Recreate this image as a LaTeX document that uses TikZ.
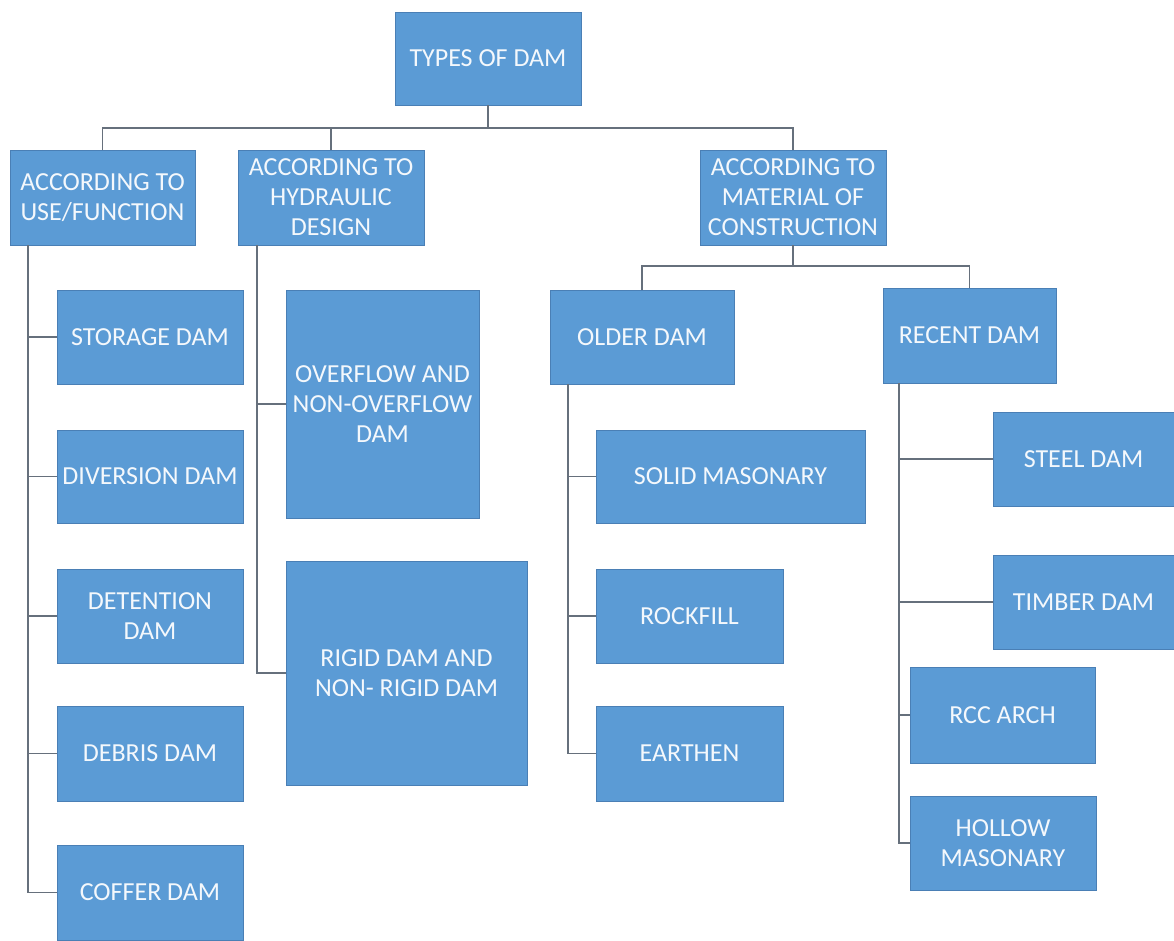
\documentclass[tikz,border=0pt]{standalone}
\usepackage{fontspec}
\setmainfont{Carlito}
\definecolor{boxfill}{HTML}{5B9BD5}
\definecolor{boxline}{HTML}{4A7FB5}
\definecolor{connline}{HTML}{66707C}
\definecolor{txt}{HTML}{F4F8FC}
\begin{document}
\begin{tikzpicture}[x=0.75pt,y=-0.75pt,
  box/.style 2 args={draw=boxline, line width=0.6pt, fill=boxfill, text=txt,
    inner sep=0pt, align=center, minimum width=#1*0.75pt, minimum height=#2*0.75pt,
    font=\fontsize{19.5}{22.5}\selectfont},
  conn/.style={draw=connline, line width=1.1pt}]
\useasboundingbox (0,0) rectangle (1174,940);
\fill[white] (0,0) rectangle (1174,940);

\node[box={186}{93}] (types) at (488,58.5) {TYPES OF DAM};
\node[box={185}{95}] (use) at (102.5,197.5) {ACCORDING TO\\USE/FUNCTION};
\node[box={186}{95}] (hyd) at (331,197.5) {ACCORDING TO\\HYDRAULIC\\DESIGN};
\node[box={186}{95}] (mat) at (793,197.5) {ACCORDING TO\\MATERIAL OF\\CONSTRUCTION};

\node[box={186}{94}] (storage) at (150,337) {STORAGE DAM};
\node[box={186}{93}] (diversion) at (150,476.5) {DIVERSION DAM};
\node[box={186}{94}] (detention) at (150,616) {DETENTION\\DAM};
\node[box={186}{95}] (debris) at (150,753.5) {DEBRIS DAM};
\node[box={186}{95}] (coffer) at (150,892.5) {COFFER DAM};

\node[box={193}{228}] (overflow) at (382.5,404) {OVERFLOW AND\\NON-OVERFLOW\\DAM};
\node[box={241}{224}] (rigid) at (406.5,673) {RIGID DAM AND\\NON- RIGID DAM};

\node[box={184}{94}] (older) at (642,337) {OLDER DAM};
\node[box={173}{95}] (recent) at (969.5,335.5) {RECENT DAM};

\node[box={269}{93}] (solid) at (730.5,476.5) {SOLID MASONARY};
\node[box={187}{94}] (rockfill) at (689.5,616) {ROCKFILL};
\node[box={187}{95}] (earthen) at (689.5,753.5) {EARTHEN};

\node[box={181}{94}] (steel) at (1083.5,459) {STEEL DAM};
\node[box={181}{94}] (timber) at (1083.5,602) {TIMBER DAM};
\node[box={185}{96}] (rcc) at (1002.5,715) {RCC ARCH};
\node[box={186}{94}] (hollow) at (1003,843) {HOLLOW\\MASONARY};

% top bus
\coordinate (bus1) at (488,128);
\draw[conn] (types.south) -- (bus1);
\draw[conn] (use.north) |- (bus1) -| (mat.north);
\draw[conn] (hyd.north) -- (hyd.north |- bus1);

% use/function column
\coordinate (uL) at (28,245);
\draw[conn] (uL) |- (coffer.west);
\foreach \n in {storage,diversion,detention,debris}
  \draw[conn] (uL |- \n.west) -- (\n.west);

% hydraulic column
\coordinate (hL) at (257,245);
\draw[conn] (hL) |- (rigid.west);
\draw[conn] (hL |- overflow.west) -- (overflow.west);

% material bus
\coordinate (bus2) at (793,266);
\draw[conn] (mat.south) -- (bus2);
\draw[conn] (older.north) |- (bus2) -| (recent.north);

% older column
\coordinate (oL) at (568,384);
\draw[conn] (oL) |- (earthen.west);
\foreach \n in {solid,rockfill}
  \draw[conn] (oL |- \n.west) -- (\n.west);

% recent column
\coordinate (rL) at (899,383);
\draw[conn] (rL) |- (hollow.west);
\foreach \n in {steel,timber,rcc}
  \draw[conn] (rL |- \n.west) -- (\n.west);
\end{tikzpicture}
\end{document}
